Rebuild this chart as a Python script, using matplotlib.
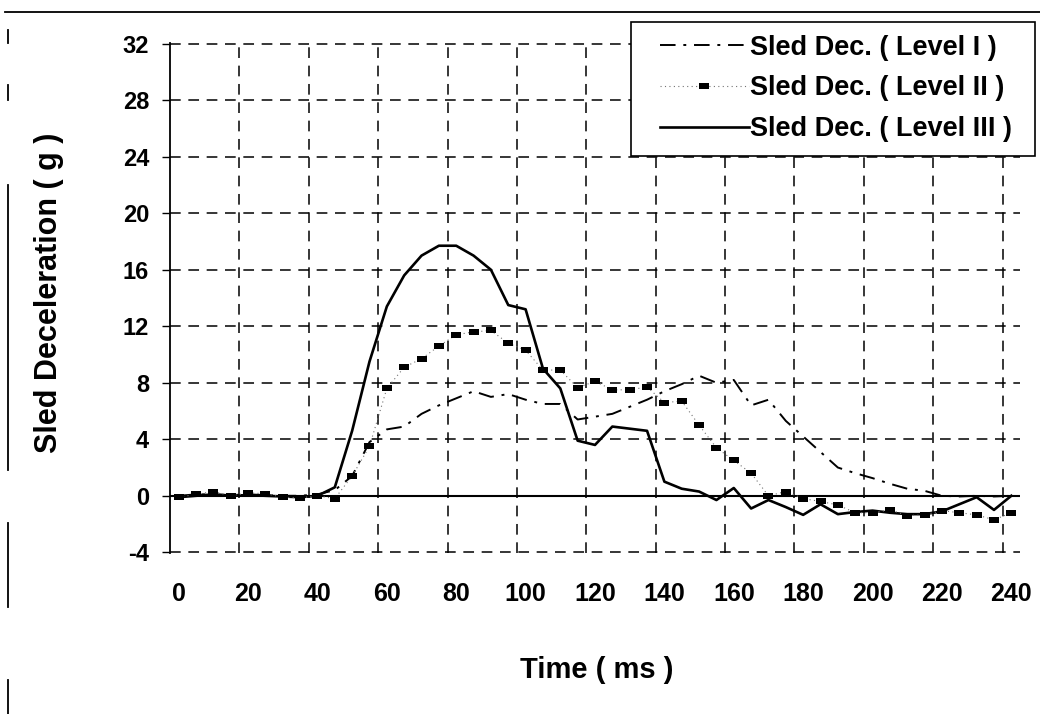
import matplotlib
matplotlib.use("Agg")
import matplotlib.pyplot as plt
from matplotlib.patches import Rectangle
from matplotlib.lines import Line2D

plt.rcParams['font.family'] = ['Liberation Sans', 'DejaVu Sans']
plt.rcParams['font.weight'] = 'bold'
plt.rcParams['axes.unicode_minus'] = False

# time axis (categories every 5 ms)
time_ms = list(range(0, 245, 5))

# sled deceleration (g)
level1 = [0.0, 0.1, 0.1, 0.05, 0.1, 0.05, 0.0, 0.0, 0.1, 0.4,
          1.4, 3.8, 4.7, 4.9, 5.8, 6.4, 6.9, 7.4, 7.0, 7.2,
          6.8, 6.5, 6.5, 5.4, 5.6, 5.8, 6.3, 6.8, 7.4, 7.9,
          8.5, 8.0, 8.2, 6.4, 6.8, 5.3, 4.2, 3.1, 2.0, 1.6,
          1.25, 0.85, 0.5, 0.35, 0.0, -0.05, 0.0, -0.05, 0.0]

level2 = [-0.1, 0.1, 0.3, 0.0, 0.2, 0.15, -0.1, -0.15, 0.0, -0.2,
          1.4, 3.5, 7.6, 9.1, 9.7, 10.6, 11.4, 11.6, 11.7, 10.8,
          10.3, 8.9, 8.9, 7.65, 8.1, 7.5, 7.5, 7.7, 6.6, 6.7,
          5.0, 3.4, 2.5, 1.6, 0.0, 0.3, -0.2, -0.4, -0.65, -1.2,
          -1.2, -1.0, -1.4, -1.35, -1.05, -1.2, -1.35, -1.7, -1.2]

level3 = [-0.1, 0.0, 0.1, 0.0, 0.05, 0.0, -0.05, -0.1, 0.0, 0.6,
          4.6, 9.5, 13.4, 15.6, 17.0, 17.7, 17.7, 17.0, 16.0, 13.5,
          13.2, 9.0, 7.6, 3.9, 3.6, 4.9, 4.75, 4.6, 1.0, 0.5,
          0.3, -0.3, 0.55, -0.9, -0.3, -0.8, -1.35, -0.6, -1.3, -1.15,
          -1.05, -1.2, -1.3, -1.3, -1.1, -0.6, -0.1, -1.0, 0.0]

labels = ['Sled Dec. ( Level I )', 'Sled Dec. ( Level II )', 'Sled Dec. ( Level III )']

W, H = 1040, 714
fig = plt.figure(figsize=(W / 100, H / 100), dpi=100)
ax = fig.add_axes([170 / W, 161 / H, 850 / W, 510 / H])

# wide flat box marker like the excel squares
rect = [(-1, -0.65), (1, -0.65), (1, 0.65), (-1, 0.65), (-1, -0.65)]

l1, = ax.plot(time_ms, level1, color='black', lw=1.4,
              linestyle=(0, (8, 4, 1.5, 4)), zorder=3)
l2, = ax.plot(time_ms, level2, color='0.45', lw=0.8,
              linestyle=(0, (1, 3)), marker=rect, markersize=7.5,
              markerfacecolor='black', markeredgewidth=0, zorder=4)
l3, = ax.plot(time_ms, level3, color='black', lw=1.9, zorder=3)

ax.axhline(0, color='black', lw=1.5, zorder=2)

ax.set_xlim(-2.5, 242.5)
ax.set_ylim(-4.05, 32.05)
ax.set_yticks(range(-4, 33, 4))
ax.set_xticks(range(0, 241, 20))
ax.set_xticks([17.5 + 20 * k for k in range(12)], minor=True)

ax.tick_params(axis='x', which='major', length=0, pad=21, labelsize=18)
ax.tick_params(axis='x', which='minor', length=0)
ax.tick_params(axis='y', direction='out', length=6, width=1, pad=9, labelsize=17)

grid_style = dict(color='black', linewidth=1.1, linestyle=(0, (7, 5)))
ax.grid(axis='y', which='major', **grid_style)
ax.grid(axis='x', which='minor', **grid_style)
ax.grid(axis='x', which='major', visible=False)

for s in ['top', 'right', 'bottom']:
    ax.spines[s].set_visible(False)
ax.spines['left'].set_linewidth(1.3)

fig.text(49 / W, 1 - 293 / H, 'Sled Deceleration ( g )', rotation=90,
         ha='center', va='center', fontsize=22, fontweight='bold')
fig.text(597 / W, 1 - 670 / H, 'Time ( ms )', ha='center', va='center',
         fontsize=21, fontweight='bold')

# legend box
fig.add_artist(Rectangle((631 / W, 1 - 156 / H), (1035 - 631) / W, (156 - 22) / H,
                         transform=fig.transFigure, facecolor='white',
                         edgecolor='black', lw=1.2, zorder=3))
leg = fig.legend([l1, l2, l3], labels, loc='upper left',
                 bbox_to_anchor=(646 / W, 1 - 21 / H), frameon=False,
                 borderpad=0, prop={'size': 19.5, 'weight': 'bold'},
                 handlelength=3.3, handletextpad=0.05, labelspacing=0.55,
                 numpoints=1)
leg.set_zorder(5)

# scan border lines
fig.add_artist(Line2D([5 / W, 1.0], [1 - 12 / H] * 2, color='black', lw=1.3))
for y0, y1 in [(30, 43), (85, 100), (185, 470), (523, 607), (680, 714)]:
    fig.add_artist(Line2D([8 / W] * 2, [1 - y0 / H, 1 - y1 / H], color='black', lw=1.3))

fig.savefig('out.png', dpi=100)
